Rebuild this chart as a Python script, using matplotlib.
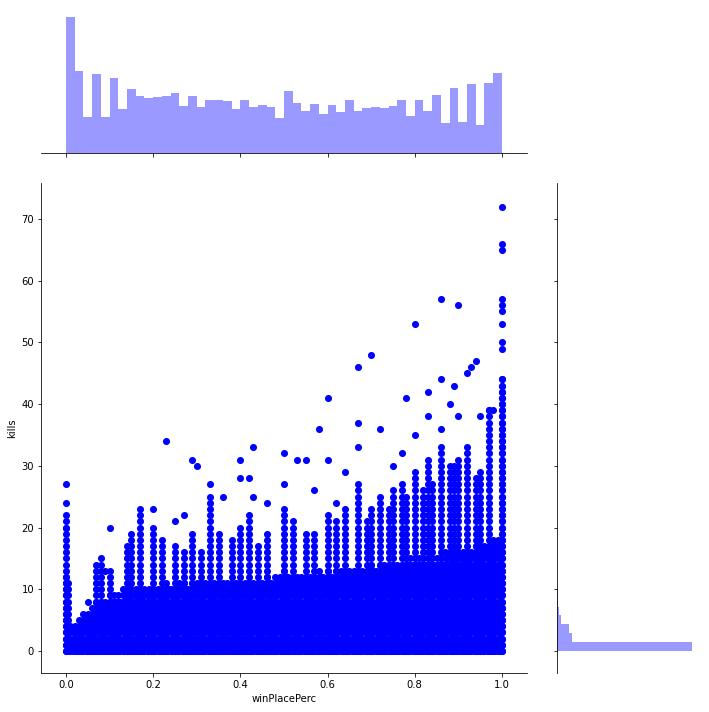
import numpy as np
import matplotlib
matplotlib.use("Agg")
import matplotlib.pyplot as plt

# top marginal histogram (relative heights, 50 bins over 0..1)
top_hist = [137,83,36,80,36,76,44,65,57,55,56,57,61,47,57,46,53,53,52,44,53,46,48,46,35,
            63,50,42,49,39,48,41,53,42,45,46,45,47,53,37,53,42,59,30,66,31,70,28,71,81]
# right marginal histogram (kills bins width 1.44)
right_hist = [135,15,12,4,1.5,0.6,0.3,0.15]

# dense columns: x position and max kills in that column
col_x = [round(i*0.01, 2) for i in range(101)]
col_max = [12,4,4,5,6,6,7,8,8,8,9,9,9,10,10,10,10,10,10,10,
           10,10,10,11,10,10,11,11,10,11,11,11,11,11,11,11,11,11,11,11,
           11,11,11,11,11,11,12,11,12,12,13,12,12,12,12,12,12,12,13,12,
           13,12,13,13,13,13,13,13,13,13,14,13,14,14,14,14,14,14,15,15,
           15,15,15,15,15,15,15,16,16,16,16,16,16,16,17,17,17,17,18,18,44]
# taller individual columns (x, max kills)
tall_x = [0,0.07,0.08,0.1,0.14,0.15,0.17,0.2,0.22,0.25,0.27,0.29,0.31,0.33,0.35,0.38,0.4,0.42,
          0.44,0.46,0.5,0.52,0.55,0.57,0.6,0.62,0.64,0.67,0.69,0.7,0.72,0.74,0.75,0.77,0.78,
          0.8,0.82,0.83,0.84,0.86,0.88,0.89,0.9,0.92,0.94,0.95,0.97,1.0]
tall_y = [22,14,15,13,17,19,21,20,18,17,16,19,16,25,19,18,20,22,
          17,19,23,21,19,19,22,21,23,27,21,23,25,23,26,27,25,
          29,26,31,27,33,30,30,31,33,28,29,39,44]
# sparse outliers
out_x = [0,0,0,0.05,0.09,0.1,0.17,0.17,0.2,0.23,0.25,0.27,0.29,0.3,
         0.33,0.36,0.4,0.4,0.42,0.43,0.43,0.46,0.5,0.5,0.53,0.55,0.57,0.58,0.6,0.6,
         0.62,0.64,0.67,0.67,0.67,0.7,0.72,0.75,0.77,0.78,0.8,0.8,0.83,0.83,0.86,0.86,0.86,
         0.88,0.89,0.9,0.9,0.92,0.93,0.94,0.95,0.97,0.98,1,1,1,1,1,1,1,1,1]
out_y = [27,24,20,8,13,20,23,22,23,34,21,22,31,30,
         27,25,31,28,28,33,25,24,32,27,31,31,26,36,41,31,
         24,29,46,37,33,48,36,30,32,41,53,35,42,38,57,44,36,
         40,43,56,38,45,46,47,38,39,39,72,66,65,57,56,55,53,50,49]

xs, ys = [], []
for x, m in zip(col_x, col_max):
    for k in range(m + 1):
        xs.append(x); ys.append(k)
for x, m in zip(col_x[:-1], col_max[:-1]):
    for k in range(m):
        xs.append(x + 0.005); ys.append(k)
for x, m in zip(tall_x, tall_y):
    for k in range(m + 1):
        xs.append(x); ys.append(k)
xs += out_x; ys += out_y

fig = plt.figure(figsize=(709/72, 712/72), dpi=72)
ax = fig.add_axes([0.058, 0.0548, 0.685, 0.688])
axt = fig.add_axes([0.058, 0.785, 0.685, 0.191])
axr = fig.add_axes([0.786, 0.0548, 0.19, 0.688])

ax.scatter(xs, ys, s=50, color="blue", linewidths=0)
ax.set_xlim(-0.057, 1.057)
ax.set_ylim(-3.57, 75.8)
ax.set_xlabel("winPlacePerc")
ax.set_ylabel("kills")
for s in ["top", "right"]:
    ax.spines[s].set_visible(False)

edges = np.linspace(0, 1, 51)
axt.bar(edges[:-1], top_hist, width=0.02, align="edge", color="blue", alpha=0.4, linewidth=0)
axt.set_xlim(ax.get_xlim())
axt.set_ylim(0, max(top_hist) * 1.0)
axt.tick_params(labelbottom=False, left=False, labelleft=False)
for s in ["top", "right", "left"]:
    axt.spines[s].set_visible(False)

redges = np.arange(len(right_hist)) * 1.44
axr.barh(redges, right_hist, height=1.44, align="edge", color="blue", alpha=0.4, linewidth=0)
axr.set_ylim(ax.get_ylim())
axr.set_xlim(0, 135)
axr.tick_params(labelleft=False, bottom=False, labelbottom=False)
for s in ["top", "right", "bottom"]:
    axr.spines[s].set_visible(False)

fig.savefig("out.png", dpi=72)
